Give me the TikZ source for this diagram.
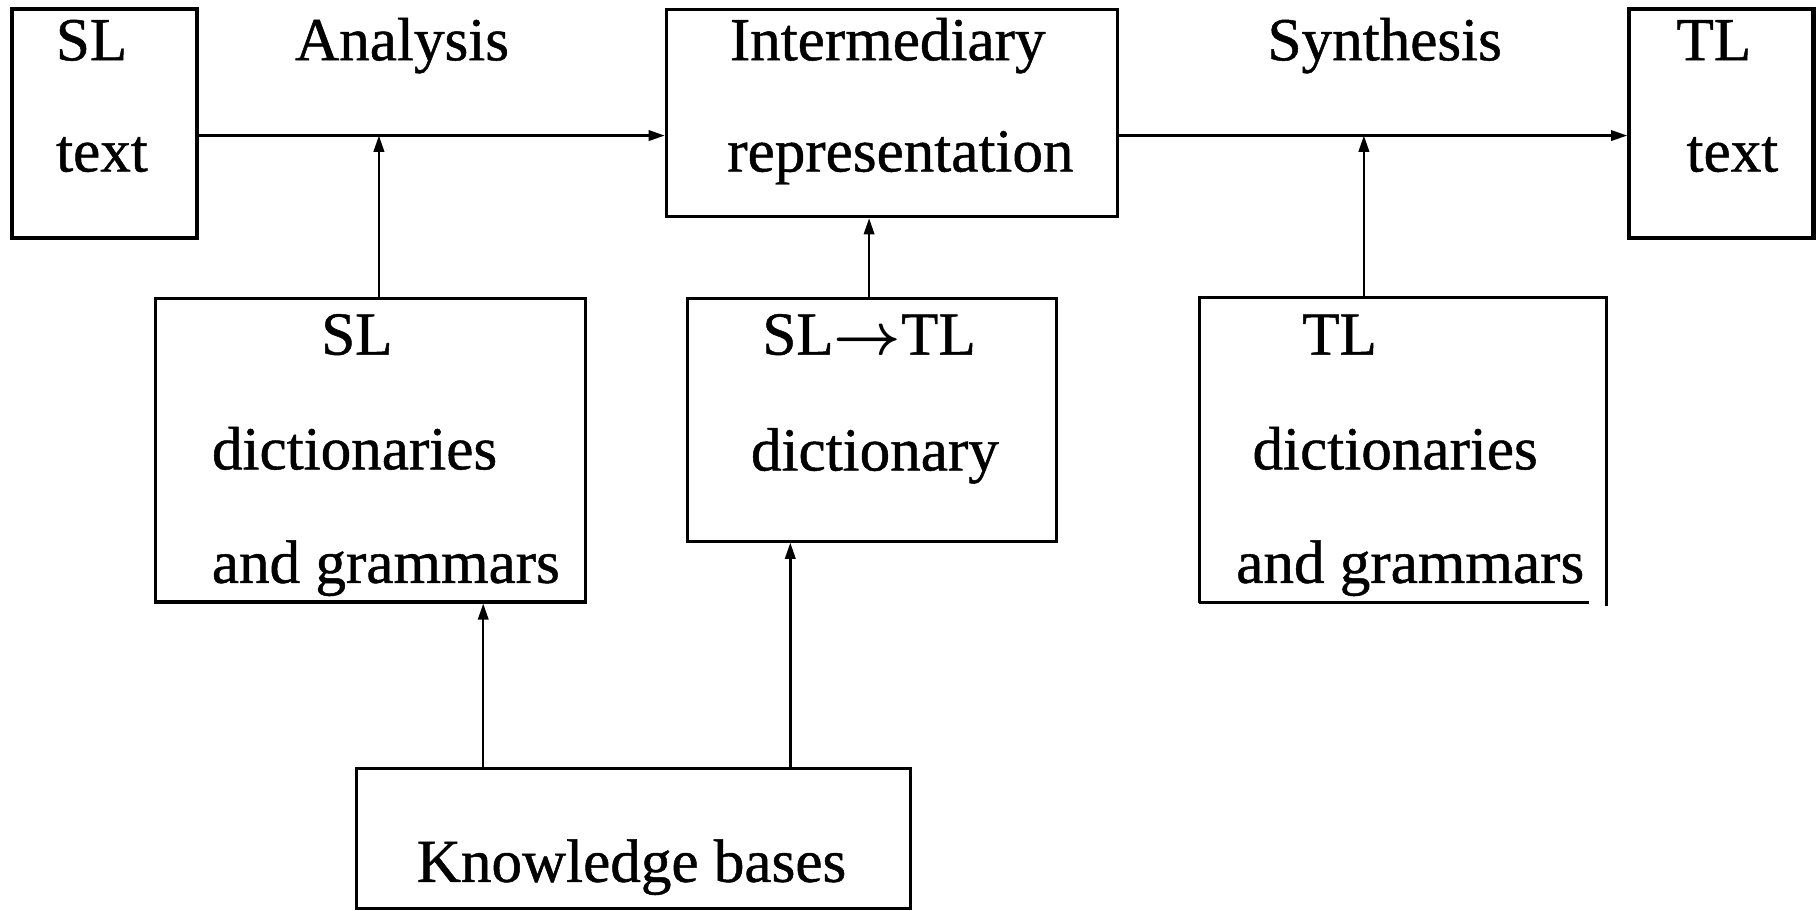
\documentclass[tikz,border=0pt]{standalone}
\usepackage{bm}
\usepackage{fontspec}
\setmainfont{Liberation Serif}[BoldFont=Liberation Serif,BoldFeatures={FakeBold=0.8}]
\usetikzlibrary{arrows.meta}
\begin{document}
\begin{tikzpicture}[x=0.01cm,y=-0.01cm,
  box/.style={draw,line width=0.75pt,inner sep=0pt,rectangle},
  thickbox/.style={box,line width=1.0pt},
  lbl/.style={anchor=base,inner sep=0pt,font=\fontsize{15}{18}\selectfont\bfseries},
  arr/.style={line width=0.6pt,-{Triangle[length=0.14cm,width=0.09cm]}}]
\useasboundingbox (0,0) rectangle (1568,786);
% boxes
\node[thickbox,minimum width=160*0.01cm,minimum height=197*0.01cm] (sltext) at (90,106.5) {};
\node[box,minimum width=389*0.01cm,minimum height=179*0.01cm] (inter) at (769.5,97.5) {};
\node[thickbox,minimum width=159*0.01cm,minimum height=197*0.01cm] (tltext) at (1485.5,106.5) {};
\node[box,minimum width=371*0.01cm,minimum height=262*0.01cm] (sldict) at (319.5,388.5) {};
\node[box,minimum width=319*0.01cm,minimum height=209*0.01cm] (sltl) at (752.5,362.5) {};
\node[inner sep=0pt,minimum width=350*0.01cm,minimum height=262*0.01cm] (tldict) at (1210.5,388.5) {};
\draw[line width=0.75pt] (tldict.south west) -- (tldict.north west) -- (tldict.north east) -- ([yshift=-0.025cm]tldict.south east);
\draw[line width=0.75pt] (tldict.south west) -- ([xshift=-0.15cm]tldict.south east);
\node[box,minimum width=478*0.01cm,minimum height=121*0.01cm] (kb) at (547,723.5) {};
% labels
\node[lbl] (t1) at (79,52) {SL};
\node[lbl] (t2) at (88,148) {text};
\node[lbl] (t3) at (347,52) {Analysis};
\node[lbl] (t4) at (766,52) {Intermediary};
\node[lbl] (t5) at (777,148) {representation};
\node[lbl] (t6) at (1195,52) {Synthesis};
\node[lbl] (t7) at (1479,52) {TL};
\node[lbl] (t8) at (1495,148) {text};
\node[lbl] (t9) at (308,306) {SL};
\node[lbl] (t10) at (306,405) {dictionaries};
\node[lbl] (t11) at (333,503) {and grammars};
\node[lbl] (t12) at (750,306) {SL$\bm{\rightarrow}$TL};
\node[lbl] (t13) at (755,406) {dictionary};
\node[lbl] (t14) at (1156,306) {TL};
\node[lbl] (t15) at (1204,405) {dictionaries};
\node[lbl] (t16) at (1217,503) {and grammars};
\node[lbl] (t17) at (545,761) {Knowledge bases};
% junctions
\coordinate (row) at (0,117);
\coordinate (ajoin) at (327,117);
\coordinate (sjoin) at (1177,117);
\coordinate (xm) at (750,0);
\coordinate (xk1) at (417,0);
\coordinate (xk2) at (682,0);
% arrows
\draw[arr] (sltext.east |- row) -- (inter.west |- row);
\draw[arr] (inter.east |- row) -- (tltext.west |- row);
\draw[arr] (sldict.north -| ajoin) -- (ajoin);
\draw[arr] (tldict.north -| sjoin) -- (sjoin);
\draw[arr] (sltl.north -| xm) -- (inter.south -| xm);
\draw[arr] (kb.north -| xk1) -- (sldict.south -| xk1);
\draw[arr] (kb.north -| xk2) -- (sltl.south -| xk2);
\end{tikzpicture}
\end{document}
